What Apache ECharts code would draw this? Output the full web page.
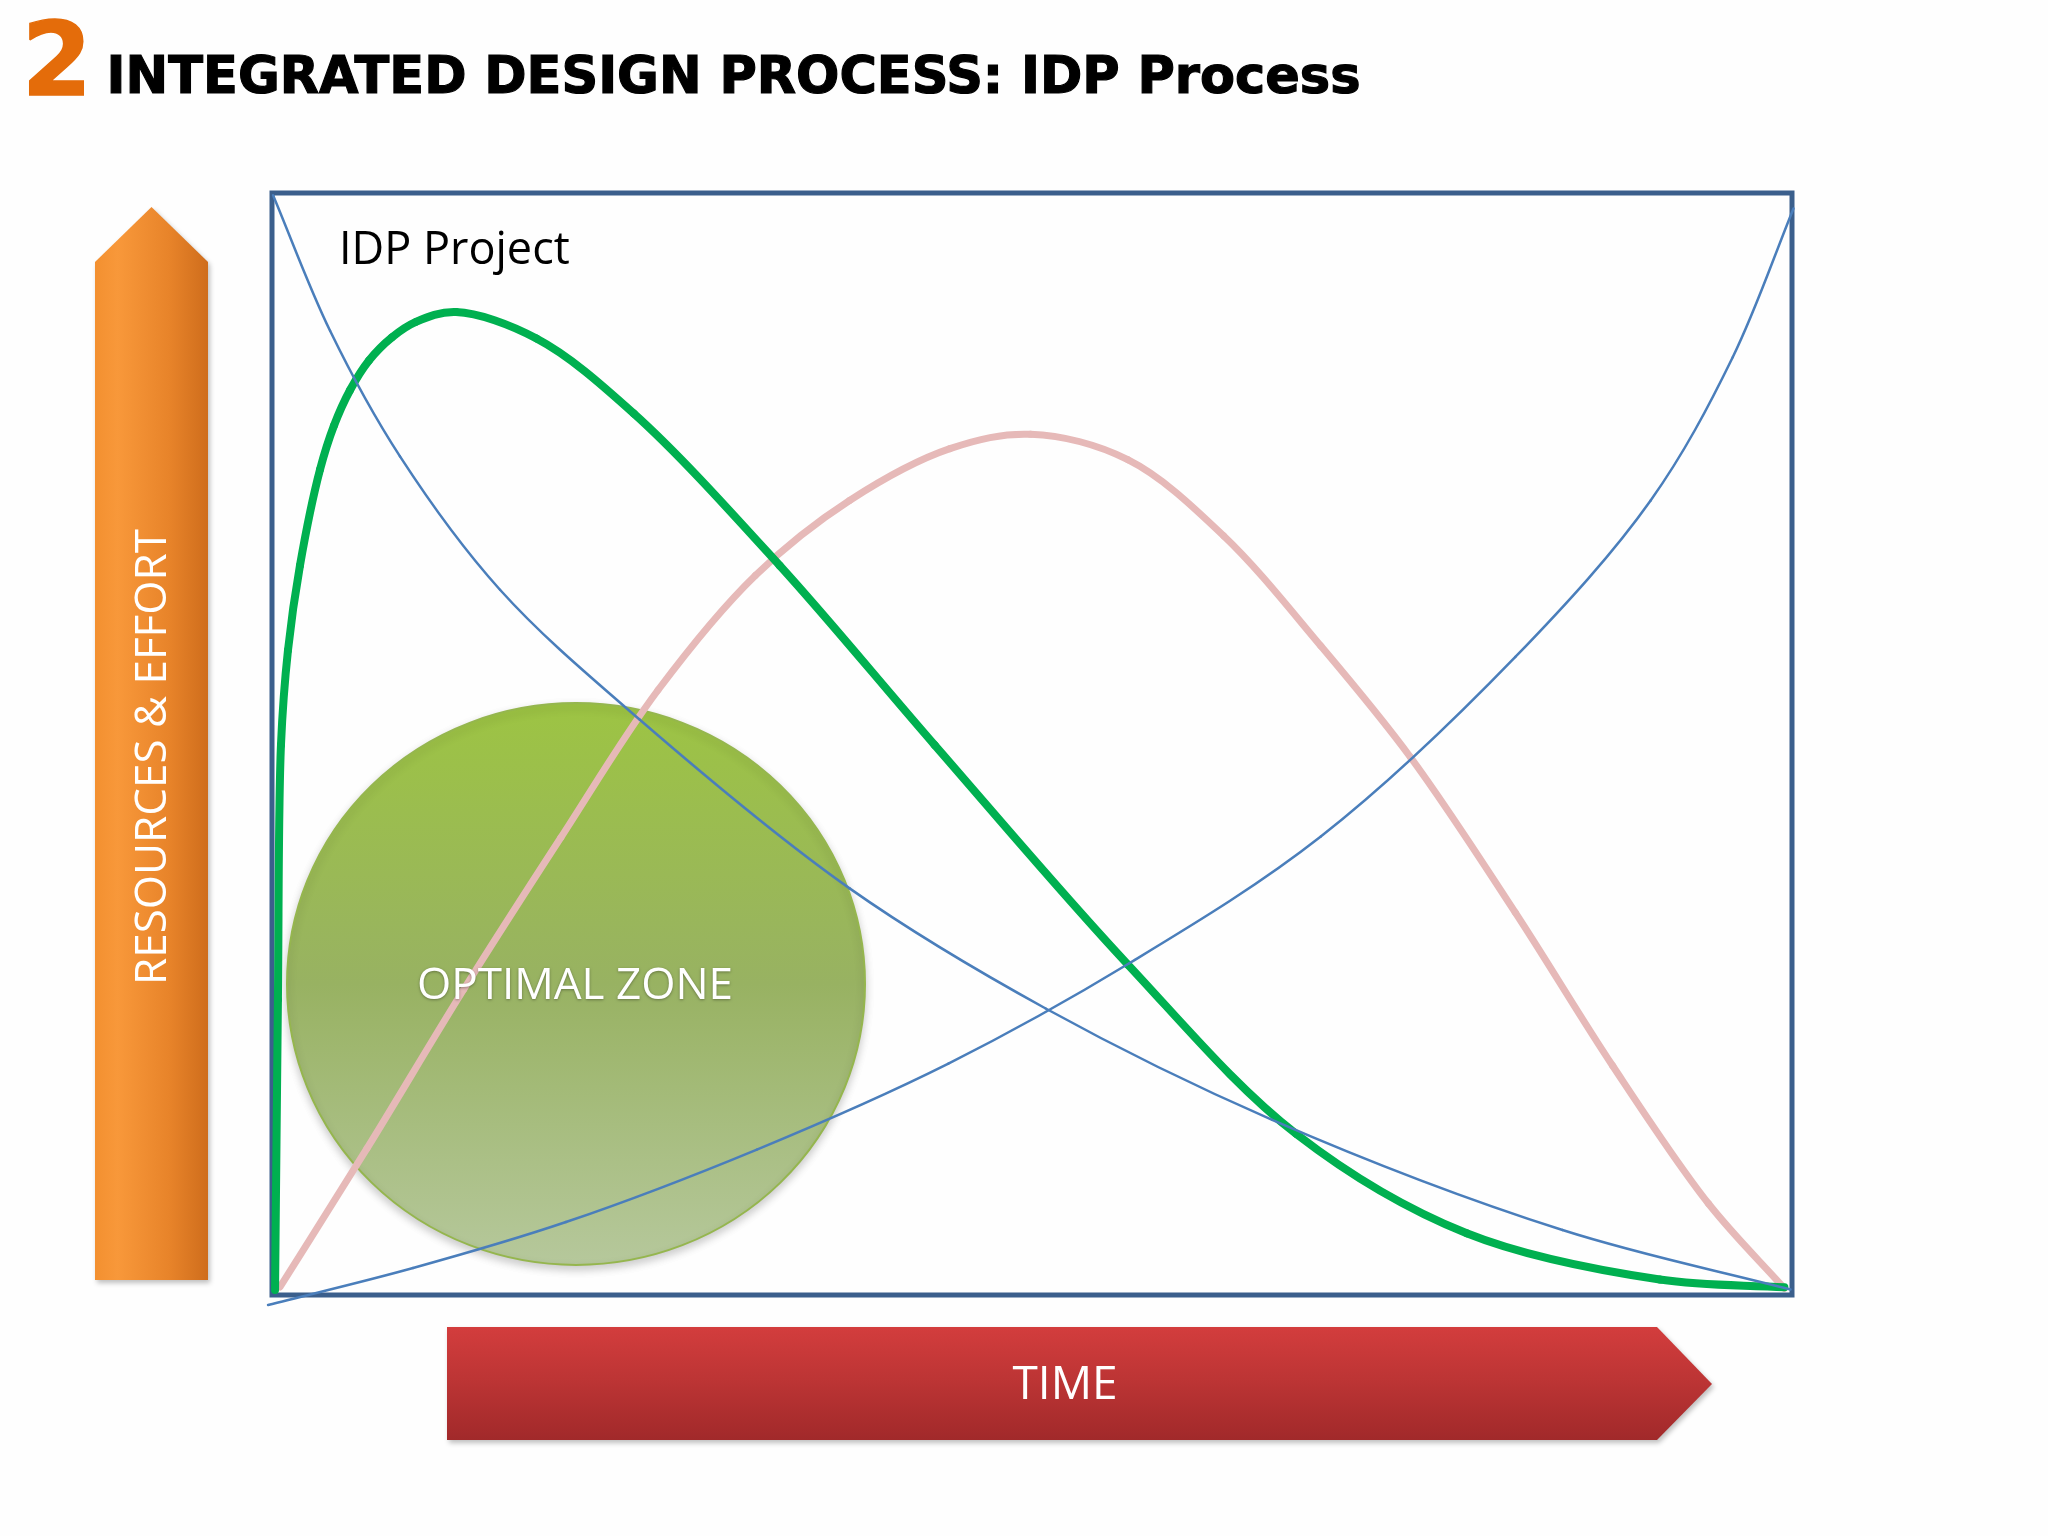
<!DOCTYPE html>
<html>
<head>
<meta charset="utf-8">
<script src="https://cdn.jsdelivr.net/npm/echarts@6/dist/echarts.min.js"></script>
<style>
  html, body { margin: 0; padding: 0; background: #fefefe; }
  #chart { width: 2048px; height: 1536px; }
</style>
</head>
<body>
<div id="chart"></div>
<script>
  // curve points, [time %, effort %]
  var influenceCurve = [[0.07,99.8],[3.82,87.5],[8.42,76.1],[15.0,64.0],[24.2,52.2],[38.0,36.9],[50.9,26.0],[65.8,15.9],[84.9,5.9],[99.9,0.5]];
  var costCurve = [[-0.26,-0.91],[9.28,2.45],[19.34,6.62],[31.9,13.2],[44.5,21.0],[56.4,30.1],[69.0,41.6],[81.8,57.9],[90.7,72.1],[96.1,85.1],[100.1,98.6]];
  var idpEffort = [[0.2,0.45],[0.39,26.8],[0.59,49.9],[1.05,58.5],[1.84,66.2],[3.16,74.9],[4.08,78.9],[5.13,82.1],[6.38,84.8],[7.89,86.9],[9.47,88.3],[12.1,89.2],[17.4,86.8],[23.8,80.0],[33.4,66.2],[43.6,49.9],[56.3,30.0],[67.4,14.6],[78.6,5.6],[91.3,1.4],[99.5,0.7]];
  var conventionalEffort = [[0.53,0.73],[6.25,13.3],[12.6,27.7],[19.0,41.5],[25.4,54.9],[31.8,65.3],[38.0,72.1],[44.6,76.8],[49.9,78.1],[56.3,75.8],[62.6,68.9],[69.0,58.9],[74.9,48.8],[81.8,34.7],[88.2,20.8],[94.5,8.3],[99.5,0.6]];

  var chart = echarts.init(document.getElementById('chart'));

  // centripetal catmull-rom between point i and i+1, drawn as a bezier piece
  function curveSeries(data, color, width, z) {
    return {
      type: 'custom',
      data: data,
      encode: { x: 0, y: 1 },
      clip: false,
      z: z,
      silent: true,
      renderItem: function (params, api) {
        var i = params.dataIndexInside;
        var n = params.dataInsideLength;
        if (i >= n - 1) return null;
        var pt = function (k) { return api.coord([api.value(0, k), api.value(1, k)]); };
        var p1 = pt(i), p2 = pt(i + 1);
        var p0 = i > 0 ? pt(i - 1) : [2 * p1[0] - p2[0], 2 * p1[1] - p2[1]];
        var p3 = i + 2 < n ? pt(i + 2) : [2 * p2[0] - p1[0], 2 * p2[1] - p1[1]];
        var d = function (a, b) { return Math.pow(Math.hypot(b[0] - a[0], b[1] - a[1]), 0.5) || 1e-6; };
        var d1 = d(p0, p1), d2 = d(p1, p2), d3 = d(p2, p3);
        var c1 = [0, 1].map(function (j) {
          return (d1 * d1 * p2[j] - d2 * d2 * p0[j] + (2 * d1 * d1 + 3 * d1 * d2 + d2 * d2) * p1[j]) / (3 * d1 * (d1 + d2));
        });
        var c2 = [0, 1].map(function (j) {
          return (d3 * d3 * p1[j] - d2 * d2 * p3[j] + (2 * d3 * d3 + 3 * d3 * d2 + d2 * d2) * p2[j]) / (3 * d3 * (d3 + d2));
        });
        return {
          type: 'bezierCurve',
          shape: { x1: p1[0], y1: p1[1], cpx1: c1[0], cpy1: c1[1], cpx2: c2[0], cpy2: c2[1], x2: p2[0], y2: p2[1] },
          style: { stroke: color, lineWidth: width, fill: null, lineCap: 'round' }
        };
      }
    };
  }

  var option = {
    backgroundColor: '#fefefe',
    animation: false,
    grid: {
      show: true,
      left: 272,
      top: 193,
      width: 1520,
      height: 1102,
      borderColor: '#3b5f8c',
      borderWidth: 5,
      backgroundColor: 'transparent'
    },
    xAxis: { type: 'value', min: 0, max: 100, show: false },
    yAxis: { type: 'value', min: 0, max: 100, show: false },
    graphic: [
      // title
      {
        type: 'text', left: 21, top: 18, z: 10,
        style: { text: '2', fill: '#e46c0a', font: 'bold 101px "DejaVu Sans"', stroke: '#e46c0a', lineWidth: 1.5 }
      },
      {
        type: 'text', left: 106, top: 54, z: 10,
        style: { text: 'INTEGRATED DESIGN PROCESS: IDP Process', fill: '#000', font: 'bold 51px "DejaVu Sans"', stroke: '#000', lineWidth: 1.2 }
      },
      // vertical arrow
      {
        type: 'polygon', z: 1,
        shape: { points: [[95,262],[151.5,207],[208,262],[208,1280],[95,1280]] },
        style: {
          fill: new echarts.graphic.LinearGradient(0, 0, 1, 0, [
            { offset: 0, color: '#f39030' },
            { offset: 0.2, color: '#f8983a' },
            { offset: 0.65, color: '#e8842a' },
            { offset: 1, color: '#cf6d1c' }
          ]),
          shadowBlur: 5, shadowOffsetX: 2, shadowOffsetY: 3, shadowColor: 'rgba(0,0,0,0.25)'
        }
      },
      {
        type: 'text', x: 153, y: 757, rotation: Math.PI / 2, z: 10,
        style: { text: 'RESOURCES & EFFORT', fill: '#fff', font: '44px "Open Sans"', align: 'center', verticalAlign: 'middle' }
      },
      // horizontal arrow
      {
        type: 'polygon', z: 1,
        shape: { points: [[447,1327],[1657,1327],[1712,1384],[1657,1440],[447,1440]] },
        style: {
          fill: new echarts.graphic.LinearGradient(0, 0, 0, 1, [
            { offset: 0, color: '#d33d3d' },
            { offset: 0.5, color: '#bb3434' },
            { offset: 1, color: '#a1292a' }
          ]),
          shadowBlur: 5, shadowOffsetX: 2, shadowOffsetY: 3, shadowColor: 'rgba(0,0,0,0.25)'
        }
      },
      {
        type: 'text', x: 1065, y: 1386, z: 10,
        style: { text: 'TIME', fill: '#fff', font: '46px "Open Sans"', align: 'center', verticalAlign: 'middle' }
      },
      // optimal zone
      {
        type: 'circle', z: 0,
        x: 576, y: 984, scaleY: 0.972,
        shape: { cx: 0, cy: 0, r: 289 },
        style: {
          fill: new echarts.graphic.LinearGradient(0, 0, 0, 1, [
            { offset: 0, color: '#9dc443' },
            { offset: 0.5, color: '#98b262' },
            { offset: 1, color: '#b6c89c' }
          ]),
          stroke: '#95b64e',
          lineWidth: 2,
          shadowBlur: 8, shadowOffsetY: 4, shadowColor: 'rgba(0,0,0,0.2)'
        }
      },
      {
        type: 'text', x: 575, y: 986, z: 10,
        style: {
          text: 'OPTIMAL ZONE', fill: '#fff', font: '44px "Open Sans"', align: 'center', verticalAlign: 'middle',
          textShadowBlur: 3, textShadowColor: 'rgba(0,0,0,0.35)', textShadowOffsetY: 1
        }
      },
      {
        type: 'text', x: 339, y: 251, z: 10,
        style: { text: 'IDP Project', fill: '#000', font: '45px "Open Sans"', align: 'left', verticalAlign: 'middle' }
      }
    ],
    series: [
      curveSeries(conventionalEffort, '#e6b9b8', 7, 3),
      curveSeries(idpEffort, '#00b050', 8, 4),
      curveSeries(influenceCurve, '#4a7ebb', 2.5, 5),
      curveSeries(costCurve, '#4a7ebb', 2.5, 5)
    ]
  };

  chart.setOption(option);
</script>
</body>
</html>
